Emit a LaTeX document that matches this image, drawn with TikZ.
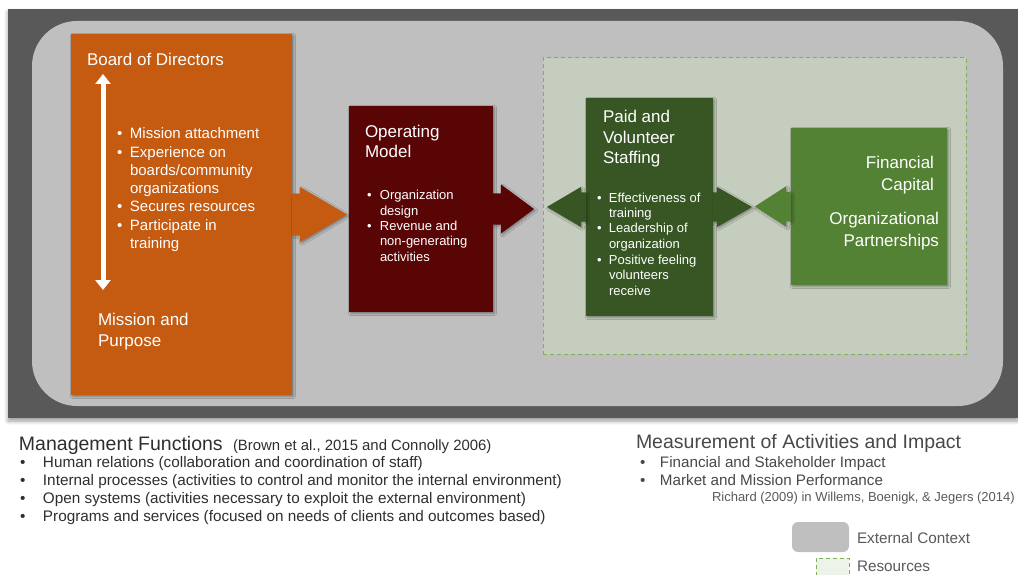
\documentclass[tikz,border=0pt]{standalone}
\usepackage{fontspec}
\setmainfont{Liberation Sans}
\usetikzlibrary{calc,arrows.meta,shadows.blur}

\definecolor{bandgray}{HTML}{595959}
\definecolor{ctxgray}{HTML}{BFBFBF}
\definecolor{boardorange}{HTML}{C55A11}
\definecolor{opred}{HTML}{5A0505}
\definecolor{staffgreen}{HTML}{375623}
\definecolor{capgreen}{HTML}{548235}
\definecolor{resfill}{HTML}{C4CDBE}
\definecolor{resline}{HTML}{7DB356}
\definecolor{legfill}{HTML}{EDF3E8}
\definecolor{inkA}{HTML}{2E2E2E}
\definecolor{inkB}{HTML}{484848}
\definecolor{inkC}{HTML}{595959}

\newcommand\fs[2]{\fontsize{#1}{#2}\selectfont}
\newlength\bulletwidth
\newcommand\bul{\makebox[\bulletwidth][l]{\textbullet}}
\newcommand\ind{\hspace*{\bulletwidth}}

% one node per line: prefix, style, x, first baseline, line step, lines
\newcommand\textlines[6]{%
  \foreach \ltext [count=\li from 0] in {#6}{%
    \node[#2] (#1\li) at (#3,#4+#5*\li) {\ltext};}}

% block arrow glued to a box side: anchor, shaft half, head base, head half, tip, fill
\newcommand\blockarrow[6]{%
  \fill[#6, arrowshadow]
    ($(#1)+(0,-#2)$) -- ($(#1)+(#3,-#2)$) -- ($(#1)+(#3,-#4)$) --
    ($(#1)+(#5,0)$) --
    ($(#1)+(#3,#4)$) -- ($(#1)+(#3,#2)$) -- ($(#1)+(0,#2)$) -- cycle;}

\begin{document}
\begin{tikzpicture}[x=1pt,y=-1pt,
  every node/.style={inner sep=0pt, outer sep=0pt},
  box/.style={rectangle, draw=none, anchor=center,
    blur shadow={shadow xshift=1.5pt, shadow yshift=-1.5pt,
      shadow blur radius=2pt, shadow opacity=40}},
  arrowshadow/.style={blur shadow={shadow xshift=1.5pt, shadow yshift=-1.5pt,
      shadow blur radius=2pt, shadow opacity=35}},
  boxtitle/.style={anchor=base west, text=white, font=\fs{17}{20}},
  boxtitleR/.style={anchor=base east, text=white, font=\fs{17}{20}},
  itemL/.style={anchor=base west, text=white, font=\fs{15}{18}},
  itemS/.style={anchor=base west, text=white, font=\fs{13}{15}},
  dashbox/.style={draw=resline, line width=1pt, dash pattern=on 4pt off 3pt},
]
\useasboundingbox (0,0) rectangle (1018,575);
\clip (0,0) rectangle (1018,575);

% outer band and external context
\node[rectangle, fill=bandgray, minimum width=1010pt, minimum height=409pt,
  blur shadow={shadow xshift=0pt, shadow yshift=-3pt, shadow blur radius=4pt, shadow opacity=40}]
  (band) at (513,213.5) {};
\node[rectangle, fill=ctxgray, rounded corners=45pt, minimum width=971pt, minimum height=385pt]
  (context) at (517.5,213.5) {};

% resources region
\node[rectangle, fill=resfill, dashbox, minimum width=423pt, minimum height=296pt]
  (resources) at (754.5,206) {};

% boxes
\node[box, fill=boardorange, minimum width=221pt, minimum height=361pt] (board) at (181.5,214.5) {};
\node[box, fill=opred, minimum width=144pt, minimum height=206pt] (opmodel) at (421,209) {};
\node[box, fill=staffgreen, minimum width=127pt, minimum height=218pt] (staffing) at (649.5,207) {};
\node[box, fill=capgreen, minimum width=156pt, minimum height=157pt] (capital) at (869,206.5) {};

% block arrows between boxes
\blockarrow{board.east}{20.5}{8}{27.5}{55}{boardorange}
\blockarrow{opmodel.east}{15.5}{8}{24.5}{41}{opred}
\blockarrow{staffing.east}{14.5}{4}{20}{39}{staffgreen}
\blockarrow{staffing.west}{14.5}{-5}{20}{-39}{staffgreen}
\blockarrow{capital.west}{14.5}{-5}{20}{-36}{capgreen}

% board of directors
\node[boxtitle] (boardtitle) at (87,66) {Board of Directors};
\coordinate (boardtop) at (103,74);
\coordinate (boardbottom) at (103,290);
\draw[white, line width=5pt,
  {Triangle[width=15pt,length=10pt]}-{Triangle[width=15pt,length=10pt]}]
  (boardtop) -- (boardbottom);
\setlength\bulletwidth{13pt}
\textlines{boardlist}{itemL}{117}{139}{18.2}{%
  {\bul Mission attachment},{\bul Experience on},{\ind boards/community},
  {\ind organizations},{\bul Secures resources},{\bul Participate in},{\ind training}}
\textlines{mission}{boxtitle}{98}{325}{21}{{Mission and},{Purpose}}

% operating model
\textlines{optitle}{boxtitle}{365}{138}{20}{{Operating},{Model}}
\setlength\bulletwidth{13pt}
\textlines{oplist}{itemS}{367}{200}{15.25}{%
  {\bul Organization},{\ind design},{\bul Revenue and},{\ind non-generating},{\ind activities}}

% paid and volunteer staffing
\textlines{stafftitle}{boxtitle}{603}{123}{20.5}{{Paid and},{Volunteer},{Staffing}}
\setlength\bulletwidth{12pt}
\textlines{stafflist}{itemS}{597}{202}{15.5}{%
  {\bul Effectiveness of},{\ind training},{\bul Leadership of},{\ind organization},
  {\bul Positive feeling},{\ind volunteers},{\ind receive}}

% financial capital and partnerships
\textlines{capA}{boxtitleR}{934}{169}{21}{{Financial},{Capital}}
\textlines{capB}{boxtitleR}{939}{225}{21}{{Organizational},{Partnerships}}

% management functions
\node[anchor=base west, text=inkA, font=\fs{19.5}{22}] (mgmt) at (19,450) {Management Functions};
\node[anchor=base west, text=inkA, font=\fs{14.9}{18}] (mgmtsrc) at (233,450)
  {(Brown et al., 2015 and Connolly 2006)};
\setlength\bulletwidth{23pt}
\textlines{mgmtlist}{anchor=base west, text=inkA, font=\fs{15.3}{18}}{20}{467.5}{18}{%
  {\bul Human relations (collaboration and coordination of staff)},
  {\bul Internal processes (activities to control and monitor the internal environment)},
  {\bul Open systems (activities necessary to exploit the external environment)},
  {\bul Programs and services (focused on needs of clients and outcomes based)}}

% measurement of activities and impact
\node[anchor=base west, text=inkB, font=\fs{19.5}{22}] (measure) at (636,448)
  {Measurement of Activities and Impact};
\setlength\bulletwidth{20pt}
\textlines{measurelist}{anchor=base west, text=inkB, font=\fs{15.2}{18}}{640}{467}{18}{%
  {\bul Financial and Stakeholder Impact},{\bul Market and Mission Performance}}
\node[anchor=base west, text=inkC, font=\fs{13}{15}] (measuresrc) at (712,501)
  {Richard (2009) in Willems, Boenigk, \& Jegers (2014)};

% legend
\node[rectangle, fill=ctxgray, rounded corners=6pt, minimum width=57pt, minimum height=30pt]
  (legctx) at (820.5,537) {};
\node[anchor=base west, text=inkC, font=\fs{15.3}{18}] (legctxlabel) at (857,543) {External Context};
\node[rectangle, fill=legfill, dashbox, minimum width=33pt, minimum height=32pt]
  (legres) at (832.5,574) {};
\node[anchor=base west, text=inkC, font=\fs{15.3}{18}] (legreslabel) at (857,571.5) {Resources};
\end{tikzpicture}
\end{document}
